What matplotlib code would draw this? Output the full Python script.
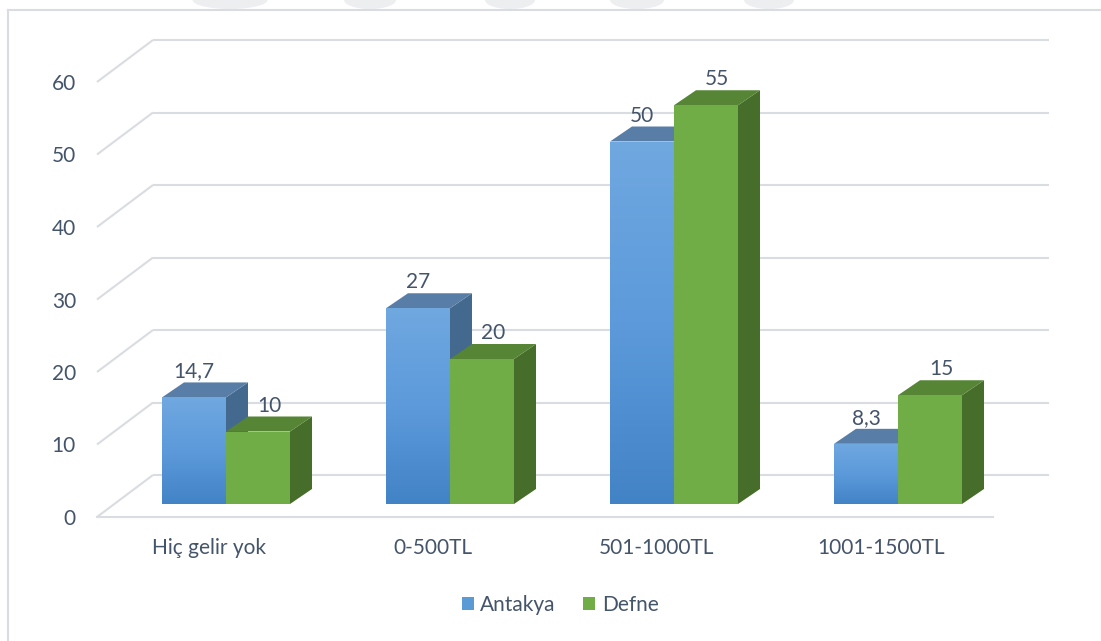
import numpy as np
import matplotlib.pyplot as plt
from matplotlib.patches import Polygon, Patch, Rectangle, Ellipse
from matplotlib.lines import Line2D
from matplotlib.colors import LinearSegmentedColormap

plt.rcParams['font.family'] = ['Lato', 'DejaVu Sans']

categories = ["Hiç gelir yok", "0-500TL", "501-1000TL", "1001-1500TL"]
antakya = [14.7, 27, 50, 8.3]
defne = [10, 20, 55, 15]
antakya_labels = ["14,7", "27", "50", "8,3"]
defne_labels = ["10", "20", "55", "15"]
yticks = [0, 10, 20, 30, 40, 50, 60]

txt_col = "#44546A"
grid_col = "#D9DCE1"

W, H = 1101, 641
fig = plt.figure(figsize=(W / 100, H / 100), dpi=100)

# front plane of the plot area (pixels)
x0, x1 = 97, 993
y0, y1 = 517, 82
ax = fig.add_axes([x0 / W, 1 - y0 / H, (x1 - x0) / W, (y0 - y1) / H])
ax.set_xlim(0, 4)
ax.set_ylim(0, 60)
ax.axis("off")

px_x = 4 / (x1 - x0)
px_y = 60 / (y0 - y1)

# oblique depth offsets
wall = (56 * px_x, 42 * px_y)
bar_front = (17 * px_x, 13 * px_y)
bar_deep = (22 * px_x, 15 * px_y)
bar_w = 64 * px_x

# back wall + left wall grid
for v in yticks:
    ax.plot([0, wall[0]], [v, v + wall[1]], color=grid_col, lw=1.5,
            clip_on=False, zorder=1, solid_capstyle="butt")
    ax.plot([wall[0], 4 + wall[0]], [v + wall[1]] * 2, color=grid_col, lw=1.5,
            clip_on=False, zorder=1, solid_capstyle="butt")
    ax.text(-21 * px_x, v, str(v), ha="right", va="center_baseline",
            fontsize=15, color=txt_col)
ax.plot([0, 4], [0, 0], color=grid_col, lw=1.5, clip_on=False, zorder=1)

blue_grad = LinearSegmentedColormap.from_list("bg", ["#4283C6", "#5C9ADB", "#70A8E0"])
series = [
    (antakya, antakya_labels, "#587EA8", "#44698F", None, 0.0),
    (defne, defne_labels, "#558535", "#476D2A", "#70AD47", 0.5),
]

for i in range(len(categories)):
    for s, (vals, labs, top_c, side_c, front_c, lab_shift) in enumerate(series):
        left = i + 0.5 - bar_w + s * bar_w + bar_front[0]
        bot = bar_front[1]
        top = bot + vals[i]
        dx, dy = bar_deep
        side = Polygon([(left + bar_w, bot), (left + bar_w + dx, bot + dy),
                        (left + bar_w + dx, top + dy), (left + bar_w, top)],
                       closed=True, fc=side_c, ec="none", zorder=3, clip_on=False)
        topf = Polygon([(left, top), (left + bar_w, top),
                        (left + bar_w + dx, top + dy), (left + dx, top + dy)],
                       closed=True, fc=top_c, ec="none", zorder=3, clip_on=False)
        ax.add_patch(side)
        ax.add_patch(topf)
        front = Rectangle((left, bot), bar_w, vals[i], fc=front_c or "none",
                          ec="none", zorder=4, clip_on=False)
        ax.add_patch(front)
        if front_c is None:
            grad = np.linspace(0, 1, 256).reshape(-1, 1)
            im = ax.imshow(grad, cmap=blue_grad, origin="lower", aspect="auto",
                           extent=(left, left + bar_w, bot, top), zorder=4)
            im.set_clip_path(front)
        ax.text(left + bar_w / 2 + lab_shift * dx, top + dy + 11 * px_y, labs[i],
                ha="center", va="center", fontsize=15, color=txt_col, zorder=5)

ax.set_xlim(0, 4)
ax.set_ylim(0, 60)

for i, c in enumerate(categories):
    ax.text(i + 0.5, -31 * px_y, c, ha="center", va="center",
            fontsize=15, color=txt_col)

handles = [Patch(fc="#5B9BD5", ec="none"), Patch(fc="#70AD47", ec="none")]
fig.legend(handles, ["Antakya", "Defne"], loc="center",
           bbox_to_anchor=(560 / W, 1 - 605 / H), ncol=2, frameon=False,
           fontsize=15, handlelength=0.6, handleheight=0.6,
           handletextpad=0.3, columnspacing=1.3, labelcolor=txt_col)

# chart frame
fig.add_artist(Line2D([8 / W, 8 / W], [0, 1 - 10 / H], color=grid_col, lw=1.5))
fig.add_artist(Line2D([8 / W, 1], [1 - 10 / H, 1 - 10 / H], color=grid_col, lw=1.5))

# faint shapes along the top edge
for cx, w in [(230, 75), (370, 52), (510, 50), (637, 54), (769, 50)]:
    fig.add_artist(Ellipse((cx / W, 1), w / W, 18 / H, fc="#EDEEF0", ec="none",
                           transform=fig.transFigure, zorder=0))

fig.savefig("out.png", dpi=100)
